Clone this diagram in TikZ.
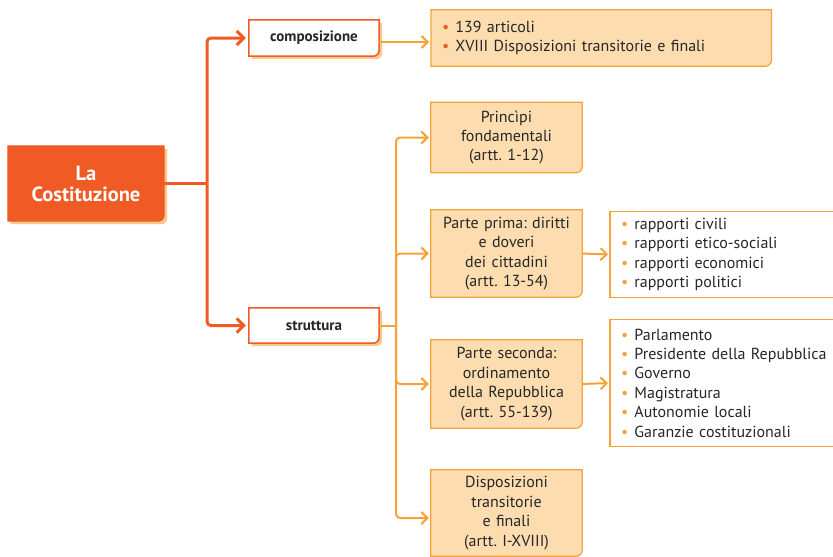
\documentclass[tikz,border=0pt]{standalone}
\usepackage{fontspec}
\setmainfont{PT Sans}
\frenchspacing
\usetikzlibrary{arrows.meta,backgrounds}

\definecolor{cred}{HTML}{F05A24}
\definecolor{corange}{HTML}{F7A239}
\definecolor{cpeach}{HTML}{FDDDB0}
\definecolor{cshadow}{HTML}{FDC88C}
\definecolor{ctext}{HTML}{262626}

% frame with the south east corner rounded
\newcommand{\cornerframe}[3]{%
  \draw[#2,fill=#3] (#1.south west) -- (#1.north west) -- (#1.north east)
    -- ([yshift=6pt]#1.south east) arc[start angle=0,end angle=-90,radius=6pt] -- cycle;}
\newcommand{\cornershadow}[1]{%
  \fill[cshadow] ([shift={(3pt,-3pt)}]#1.south west) -- ([shift={(3pt,-3pt)}]#1.north west)
    -- ([shift={(3pt,-3pt)}]#1.north east) -- ([shift={(3pt,3pt)}]#1.south east)
    arc[start angle=0,end angle=-90,radius=6pt] -- cycle;}
\newcommand{\dotitem}[2]{\textcolor{#1}{\textbullet}\hspace{6pt}#2}

\begin{document}
\begin{tikzpicture}[x=1pt, y=1pt,
  txt/.style={text=ctext, font=\fontsize{16}{19.4}\selectfont, inner sep=0pt},
  partbox/.style={txt, minimum width=151pt, align=center, text width=143pt},
  listbox/.style={txt, anchor=west, align=left, text width=218pt, inner xsep=11pt},
  keybox/.style={text=ctext, font=\fontsize{15}{18}\selectfont\bfseries, minimum width=130pt, minimum height=36pt, inner sep=0pt},
  redline/.style={cred, line width=3pt},
  redarrow/.style={redline, rounded corners=4pt, -{Straight Barb[length=7pt,width=14pt]}, shorten >=3pt},
  orline/.style={corange, line width=2pt},
  orarrow/.style={orline, rounded corners=4pt, -{Straight Barb[length=6pt,width=12pt]}, shorten >=2pt}]

\useasboundingbox (0,0) rectangle (833,-557);

% main node
\node[text=white, font=\fontsize{20.5}{21}\selectfont\bfseries, align=center,
  minimum width=156pt, minimum height=75pt] (cost) at (86,-183.5) {La\\Costituzione};

\node[keybox] (comp) at (314,-38) {composizione};
\node[keybox, minimum height=35pt] (strut) at (314,-325.5) {struttura};

\node[listbox, text width=318pt, minimum height=56pt] (art) at (431,-38)
  {\dotitem{cred}{139 articoli}\\\dotitem{cred}{XVIII Disposizioni transitorie e finali}};

\node[partbox, minimum height=70pt] (princ) at (506.5,-137.5) {Princìpi\\fondamentali\\(artt. 1-12)};
\node[partbox, minimum height=87pt] (prima) at (506.5,-253.5) {Parte prima: diritti\\e doveri\\dei cittadini\\(artt. 13-54)};
\node[partbox, minimum height=88pt] (seconda) at (506.5,-384) {Parte seconda:\\ordinamento\\della Repubblica\\(artt. 55-139)};
\node[partbox, minimum height=86pt] (disp) at (506.5,-513) {Disposizioni\\transitorie\\e finali\\(artt. I-XVIII)};

\node[listbox, minimum height=85pt] (civ) at (610,-254.5)
  {\dotitem{corange}{rapporti civili}\\\dotitem{corange}{rapporti etico-sociali}\\
   \dotitem{corange}{rapporti economici}\\\dotitem{corange}{rapporti politici}};
\node[listbox, minimum height=126pt] (org) at (610,-383)
  {\dotitem{corange}{Parlamento}\\\dotitem{corange}{Presidente della Repubblica}\\
   \dotitem{corange}{Governo}\\\dotitem{corange}{Magistratura}\\
   \dotitem{corange}{Autonomie locali}\\\dotitem{corange}{Garanzie costituzionali}};

% frames behind the text
\begin{scope}[on background layer]
\cornershadow{cost}
\cornerframe{cost}{cred,line width=1pt}{cred}
\cornershadow{comp}
\cornerframe{comp}{cred,line width=1.5pt}{white}
\cornershadow{strut}
\cornerframe{strut}{cred,line width=1.5pt}{white}
\foreach \n in {art,princ,prima,seconda,disp}
  {\cornerframe{\n}{corange,line width=1.2pt}{cpeach}}
\draw[corange, line width=1.2pt, fill=white] (civ.south west) rectangle (civ.north east);
\draw[corange, line width=1.2pt, fill=white] (org.south west) rectangle (org.north east);
\end{scope}

% connectors
\coordinate (j1) at (207,-183.5);
\coordinate (j2) at (396,-325.5);
\draw[redline] (cost.east) -- (j1);
\draw[redarrow] (j1) |- (comp.west);
\draw[redarrow] (j1) |- (strut.west);

\draw[orarrow] ([yshift=-4pt]comp.east) -- ([yshift=-4pt]comp.east -| art.west);
\draw[orline] (strut.east) -- (j2);
\draw[orarrow] (j2) |- (princ.west);
\draw[orarrow] (j2) |- (prima.west);
\draw[orarrow] (j2) |- (seconda.west);
\draw[orarrow] (j2) |- ([yshift=-5pt]disp.west);
\draw[orarrow] (prima.east) -- (civ.west);
\draw[orarrow] (seconda.east) -- (org.west);

\end{tikzpicture}
\end{document}
